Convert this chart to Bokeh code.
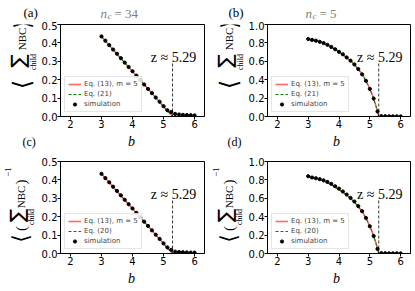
import math
from bokeh.plotting import figure
from bokeh.models import Range1d, FixedTicker, PrintfTickFormatter, Label
from bokeh.layouts import column, row
from bokeh.embed import file_html
from bokeh.resources import INLINE

# ---------------- data ----------------
z_crit = 5.29
b_theory = [3.0, 3.1, 3.2, 3.3, 3.4, 3.5, 3.6, 3.7, 3.8, 3.9, 4.0, 4.1, 4.2,
            4.3, 4.4, 4.5, 4.6, 4.7, 4.8, 4.9, 5.0, 5.1, 5.2, 5.29, 5.5, 6.0]
b_sim = [3.0, 3.125, 3.25, 3.375, 3.5, 3.625, 3.75, 3.875, 4.0, 4.125, 4.25,
         4.375, 4.5, 4.625, 4.75, 4.875, 5.0, 5.125, 5.25, 5.375, 5.5, 5.625,
         5.75, 5.875, 6.0]

# (a) n_c = 34
a_eq13 = [0.435, 0.416, 0.397, 0.378, 0.359, 0.340, 0.321, 0.302, 0.283, 0.264,
          0.245, 0.226, 0.207, 0.188, 0.169, 0.150, 0.131, 0.112, 0.093, 0.074,
          0.055, 0.036, 0.017, 0.0, 0.0, 0.0]
a_eq21 = [0.434, 0.415, 0.396, 0.377, 0.358, 0.339, 0.320, 0.301, 0.282, 0.263,
          0.244, 0.225, 0.206, 0.187, 0.168, 0.149, 0.130, 0.111, 0.092, 0.073,
          0.054, 0.035, 0.016, 0.0, 0.0, 0.0]
a_sim = [0.435, 0.412, 0.388, 0.364, 0.341, 0.317, 0.293, 0.269, 0.246, 0.222,
         0.198, 0.174, 0.150, 0.127, 0.103, 0.080, 0.056, 0.034, 0.024, 0.014,
         0.011, 0.009, 0.008, 0.007, 0.006]

# (b) n_c = 5
b_eq13 = [0.840, 0.834, 0.827, 0.819, 0.809, 0.797, 0.782, 0.765, 0.745, 0.724,
          0.702, 0.679, 0.654, 0.627, 0.598, 0.565, 0.525, 0.482, 0.432, 0.372,
          0.302, 0.218, 0.115, 0.0, 0.0, 0.0]
b_eq21 = [0.838, 0.832, 0.825, 0.817, 0.807, 0.795, 0.780, 0.763, 0.743, 0.722,
          0.700, 0.677, 0.652, 0.625, 0.596, 0.563, 0.523, 0.480, 0.430, 0.370,
          0.300, 0.216, 0.113, 0.0, 0.0, 0.0]
b_simv = [0.842, 0.832, 0.824, 0.812, 0.798, 0.779, 0.756, 0.731, 0.703, 0.676,
          0.642, 0.607, 0.566, 0.516, 0.458, 0.388, 0.300, 0.195, 0.055, 0.004,
          0.003, 0.002, 0.002, 0.002, 0.001]

# (c) n_c = 34, inverse mean
c_eq13 = [0.433, 0.414, 0.395, 0.376, 0.357, 0.338, 0.319, 0.300, 0.282, 0.263,
          0.244, 0.225, 0.206, 0.187, 0.168, 0.149, 0.130, 0.111, 0.092, 0.073,
          0.054, 0.035, 0.016, 0.0, 0.0, 0.0]
c_eq20 = [0.432, 0.413, 0.394, 0.375, 0.356, 0.337, 0.318, 0.299, 0.281, 0.262,
          0.243, 0.224, 0.205, 0.186, 0.167, 0.148, 0.129, 0.110, 0.091, 0.072,
          0.053, 0.034, 0.015, 0.0, 0.0, 0.0]
c_sim = [0.433, 0.410, 0.387, 0.363, 0.340, 0.316, 0.292, 0.268, 0.245, 0.221,
         0.197, 0.173, 0.150, 0.126, 0.102, 0.079, 0.055, 0.033, 0.020, 0.010,
         0.008, 0.007, 0.006, 0.005, 0.005]

# (d) n_c = 5, inverse mean
d_eq13 = [0.838, 0.831, 0.823, 0.814, 0.803, 0.790, 0.775, 0.758, 0.738, 0.717,
          0.695, 0.672, 0.647, 0.620, 0.591, 0.559, 0.520, 0.477, 0.428, 0.368,
          0.298, 0.214, 0.112, 0.0, 0.0, 0.0]
d_eq20 = [0.837, 0.830, 0.822, 0.813, 0.802, 0.789, 0.774, 0.757, 0.737, 0.716,
          0.694, 0.671, 0.646, 0.619, 0.590, 0.558, 0.519, 0.476, 0.427, 0.367,
          0.297, 0.213, 0.111, 0.0, 0.0, 0.0]
d_sim = [0.840, 0.826, 0.818, 0.808, 0.795, 0.778, 0.757, 0.731, 0.705, 0.674,
         0.641, 0.604, 0.565, 0.515, 0.460, 0.386, 0.296, 0.190, 0.050, 0.004,
         0.003, 0.002, 0.002, 0.002, 0.001]

x_ticks = [2, 3, 4, 5, 6]
y_ticks_small = [0.0, 0.1, 0.2, 0.3, 0.4, 0.5]
y_ticks_large = [0.0, 0.2, 0.4, 0.6, 0.8, 1.0]
panel_tags = ["(a)", "(b)", "(c)", "(d)"]
nc_values = ["34", "5"]
legend_eq13 = "Eq. (13), m = 5"
legend_second = ["Eq. (21)", "Eq. (21)", "Eq. (20)", "Eq. (20)"]
legend_sim = "simulation"

SERIF = "Liberation Serif"
SANS = "DejaVu Sans"
FH = 92
HALF = math.pi / 2


def make_fig(fw, left, right, top, bottom, ymax, yticks):
    p = figure(frame_width=fw, frame_height=FH, min_border_left=left,
               min_border_right=right, min_border_top=top,
               min_border_bottom=bottom, x_range=Range1d(1.68, 6.32),
               y_range=Range1d(0, ymax), output_backend="svg",
               toolbar_location=None)
    p.grid.visible = False
    p.outline_line_color = "black"
    p.outline_line_width = 1
    p.background_fill_color = "white"
    for ax in (p.xaxis[0], p.yaxis[0]):
        ax.axis_line_color = "black"
        ax.major_tick_line_color = "black"
        ax.minor_tick_line_color = None
        ax.major_tick_in = 0
        ax.major_tick_out = 3
        ax.major_label_standoff = 0
        ax.major_label_text_font = SANS
        ax.major_label_text_font_size = "10px"
        ax.major_label_text_color = "black"
    p.xaxis.ticker = FixedTicker(ticks=x_ticks)
    p.xaxis.formatter = PrintfTickFormatter(format="%d")
    p.yaxis.ticker = FixedTicker(ticks=yticks)
    p.yaxis.formatter = PrintfTickFormatter(format="%.1f")
    return p


class TextFig:
    """A blank figure whose frame is its whole canvas, placed at (x0, y0)."""

    def __init__(self, x0, y0, w, h):
        self.x0, self.y0, self.h = x0, y0, h
        p = figure(width=w, height=h, min_border=0, x_range=Range1d(0, w),
                   y_range=Range1d(0, h), output_backend="svg",
                   toolbar_location=None, x_axis_location=None,
                   y_axis_location=None)
        p.grid.visible = False
        p.outline_line_color = None
        p.background_fill_color = "white"
        p.border_fill_color = "white"
        self.p = p

    def put(self, xs, ys, text, size, font=SERIF, style="normal", angle=0.0,
            align="center", baseline="middle", color="black"):
        self.p.add_layout(Label(
            x=xs - self.x0, y=(self.y0 + self.h) - ys, x_units="screen",
            y_units="screen", text=text, text_font=font,
            text_font_size=f"{size}px", text_font_style=style, angle=angle,
            text_align=align, text_baseline=baseline, text_color=color))


# ---------------- plot panels ----------------
pa = make_fig(144, 21, 4, 3, 16, 0.5, y_ticks_small)
pb = make_fig(143, 21, 6, 3, 16, 1.0, y_ticks_large)
pc = make_fig(144, 21, 4, 11, 16, 0.5, y_ticks_small)
pd = make_fig(143, 21, 6, 11, 16, 1.0, y_ticks_large)

panels = [
    (pa, a_eq13, a_eq21, a_sim, 0.5),
    (pb, b_eq13, b_eq21, b_simv, 1.0),
    (pc, c_eq13, c_eq20, c_sim, 0.5),
    (pd, d_eq13, d_eq20, d_sim, 1.0),
]

for i, (p, t1, t2, s, ymax) in enumerate(panels):
    p.line(b_theory, t1, color="red", alpha=0.6, line_width=1.6,
           legend_label=legend_eq13)
    p.line(b_theory, t2, color="green", line_dash="3 2", line_width=1.0,
           legend_label=legend_second[i])
    p.scatter(b_sim, s, size=3.2, color="black", legend_label=legend_sim)
    top = 0.6 * ymax
    p.line([z_crit, z_crit], [0, top], color="black", line_dash="3 2",
           line_width=0.8)
    p.add_layout(Label(x=z_crit, y=top, y_offset=4, x_offset=1,
                       text="z \u2248 5.29", text_font=SERIF,
                       text_font_size="14px", text_align="center",
                       text_baseline="alphabetic", text_color="black"))
    leg = p.legend[0]
    leg.location = (4, 4)
    leg.label_text_font = SANS
    leg.label_text_font_size = "7px"
    leg.glyph_width = 13
    leg.glyph_height = 8
    leg.label_height = 8
    leg.spacing = 2
    leg.padding = 3
    leg.margin = 0
    leg.label_standoff = 3
    leg.border_line_color = "#cccccc"
    leg.border_line_width = 1
    leg.background_fill_alpha = 0.85

# ---------------- text areas ----------------
header = TextFig(0, 0, 414, 21)
yl_a = TextFig(0, 21, 38, 111)
yl_b = TextFig(207, 21, 37, 111)
band = TextFig(0, 132, 414, 18)
yl_c = TextFig(0, 150, 38, 119)
yl_d = TextFig(207, 150, 37, 119)
footer = TextFig(0, 269, 414, 21)

# panel tags, titles and x-axis labels
for j, dx in enumerate((0, 205)):
    header.put(23 + dx, 12, panel_tags[j], 13, align="left",
               baseline="alphabetic")
    x0 = 100 + dx
    header.put(x0, 13, "n", 13, style="italic", align="left",
               baseline="alphabetic", color="#808080")
    header.put(x0 + 7, 15, "c", 9, style="italic", align="left",
               baseline="alphabetic", color="#808080")
    header.put(x0 + 14, 13, "= " + nc_values[j], 13, align="left",
               baseline="alphabetic", color="#808080")
    band.put(22 + dx, 141.5, panel_tags[2 + j], 12, align="left",
             baseline="middle")
    band.put(131 + dx, 140.5, "b", 14, style="italic")
    footer.put(131 + dx, 278, "b", 14, style="italic")

# rotated y-axis labels (screen centres)
mean_pieces = [("\u27e8", 21.5, 100, 24, SANS), ("\u2211", 17, 76.5, 20, SANS),
               ("child", 32.5, 77.5, 8, SERIF), ("NBC", 21, 54.5, 11, SERIF),
               ("\u27e9", 21.5, 40, 22, SANS)]
inv_pieces = [("\u22121", 6, 160, 9, SERIF), ("\u27e9", 20, 174, 22, SANS),
              ("\u22121", 7.5, 187.5, 9, SERIF), (")", 20, 197.5, 15, SERIF),
              ("NBC", 20, 212.5, 11, SERIF), ("\u2211", 16, 231, 20, SANS),
              ("child", 31, 232.5, 8, SERIF), ("(", 20, 244, 15, SERIF),
              ("\u27e8", 20, 254, 22, SANS)]
for tf, dx in ((yl_a, 0), (yl_b, 206)):
    for t, x, y, s, f in mean_pieces:
        tf.put(x + dx, y, t, s, font=f, angle=HALF)
for tf, dx in ((yl_c, 0), (yl_d, 207)):
    for t, x, y, s, f in inv_pieces:
        tf.put(x + dx, y, t, s, font=f, angle=HALF)

layout = column(
    header.p,
    row(yl_a.p, pa, yl_b.p, pb),
    band.p,
    row(yl_c.p, pc, yl_d.p, pd),
    footer.p,
)
open("out.html", "w").write(file_html(layout, INLINE))
